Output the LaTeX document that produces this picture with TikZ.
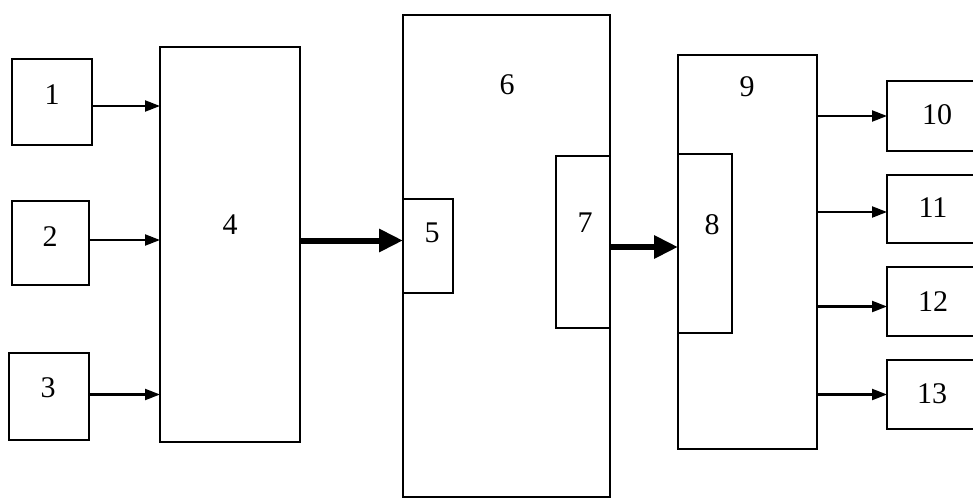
\documentclass[tikz,border=0pt]{standalone}
\usepackage{fontspec}
\setmainfont{Liberation Serif}
\usetikzlibrary{arrows.meta}
\begin{document}
\begin{tikzpicture}[x=1pt,y=-1pt,
  blk/.style={draw, line width=2.2pt, rectangle, anchor=north west, inner sep=0pt, outer sep=0pt},
  num/.style={inner sep=0pt, font=\fontsize{30}{30}\selectfont},
  thin/.style={line width=2.2pt, -{Triangle[length=15pt,width=11pt]}},
  thick/.style={line width=6pt, -{Triangle[length=24pt,width=22pt]}}]
  \useasboundingbox (0,0) rectangle (973,500);
  \clip (0,0) rectangle (973,500);
  \fill[white] (0,0) rectangle (973,500);

  % input blocks
  \node[blk, minimum width=80pt, minimum height=86pt] (b1) at (12,59) {};
  \node[blk, minimum width=77pt, minimum height=84pt] (b2) at (12,201) {};
  \node[blk, minimum width=80pt, minimum height=87pt] (b3) at (9,353) {};
  \node[blk, minimum width=140pt, minimum height=395pt] (b4) at (160,47) {};

  % middle unit with its two ports
  \node[blk, minimum width=207pt, minimum height=482pt] (b6) at (403,15) {};
  \node[blk, minimum width=50pt, minimum height=94pt] (b5) at (403,199) {};
  \node[blk, minimum width=54pt, minimum height=172pt] (b7) at (556,156) {};

  % output unit
  \node[blk, minimum width=139pt, minimum height=394pt] (b9) at (678,55) {};
  \node[blk, minimum width=54pt, minimum height=179pt] (b8) at (678,154) {};

  % output blocks
  \node[blk, minimum width=100pt, minimum height=70pt] (b10) at (887,81) {};
  \node[blk, minimum width=100pt, minimum height=68pt] (b11) at (887,175) {};
  \node[blk, minimum width=100pt, minimum height=69pt] (b12) at (887,267) {};
  \node[blk, minimum width=100pt, minimum height=69pt] (b13) at (887,360) {};

  % labels
  \node[num] (t1) at (52,95) {1};
  \node[num] (t2) at (50,237) {2};
  \node[num] (t3) at (48,388) {3};
  \node[num] (t4) at (230,225) {4};
  \node[num] (t5) at (432,233) {5};
  \node[num] (t6) at (507,85) {6};
  \node[num] (t7) at (585,223) {7};
  \node[num] (t8) at (712,225) {8};
  \node[num] (t9) at (747,87) {9};
  \node[num] (t10) at (937,115) {10};
  \node[num] (t11) at (933,208) {11};
  \node[num] (t12) at (933,302) {12};
  \node[num] (t13) at (932,394) {13};

  % connectors
  \draw[thin] ([yshift=-4pt]b1.east) -- ([yshift=-4pt]b1.east -| b4.west);
  \draw[thin] ([yshift=3pt]b2.east) -- ([yshift=3pt]b2.east -| b4.west);
  \draw[thin] ([yshift=2pt]b3.east) -- ([yshift=2pt]b3.east -| b4.west);
  \draw[thick] ([yshift=4pt]b4.east) -- ([yshift=4pt]b4.east -| b5.west);
  \draw[thick] ([yshift=-5pt]b7.east) -- ([yshift=-5pt]b7.east -| b8.west);
  \draw[thin] (b9.east |- b10.west) -- (b10.west);
  \draw[thin] ([yshift=-3pt]b9.east |- b11.west) -- ([yshift=-3pt]b11.west);
  \draw[thin] ([yshift=-5pt]b9.east |- b12.west) -- ([yshift=-5pt]b12.west);
  \draw[thin] (b9.east |- b13.west) -- (b13.west);
\end{tikzpicture}
\end{document}
